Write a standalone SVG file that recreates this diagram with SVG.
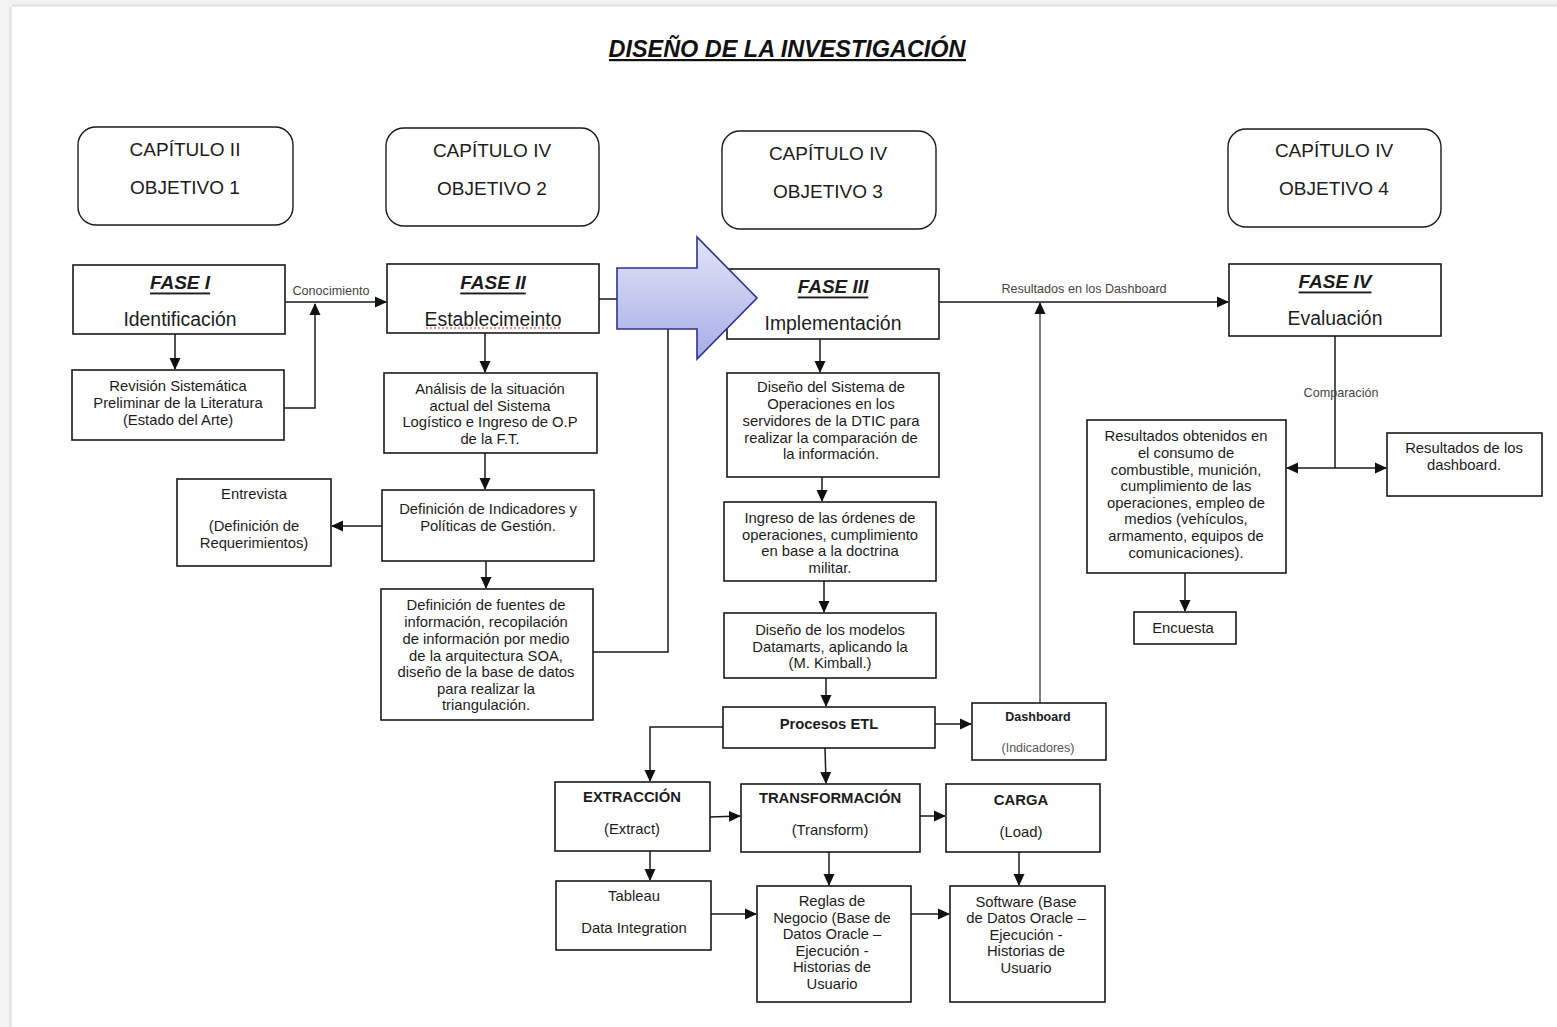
<svg xmlns="http://www.w3.org/2000/svg" width="1557" height="1027" viewBox="0 0 1557 1027">
  <style>
    .box { fill: #ffffff; stroke: #1a1a1a; stroke-width: 1.6; }
    .cap { fill: #ffffff; stroke: #1a1a1a; stroke-width: 1.4; }
    .t { font-family: "Liberation Sans", Arial, sans-serif; fill: #1c1c1c; text-anchor: middle; dominant-baseline: central; }
    .s13 { font-size: 14.8px; }
    .s17 { font-size: 19px; }
    .s18 { font-size: 19.4px; }
    .fase { font-size: 19px; font-weight: bold; font-style: italic; text-decoration: underline; }
    .b { font-weight: bold; font-size: 14.8px; }
    .lbl { font-family: "Liberation Sans", Arial, sans-serif; font-size: 12.6px; fill: #444; text-anchor: middle; dominant-baseline: central; }
    .ln { fill: none; stroke: #1a1a1a; stroke-width: 1.5; }
    .ar { marker-end: url(#ah); }
  </style>
  <defs>
    <marker id="ah" markerUnits="userSpaceOnUse" markerWidth="12" markerHeight="12" viewBox="0 0 12 12" refX="11" refY="6" orient="auto">
      <path d="M0,0.5 L12,6 L0,11.5 Z" fill="#111"/>
    </marker>
    <linearGradient id="blue" x1="0" y1="0" x2="0" y2="1">
      <stop offset="0" stop-color="#e2e5f8"/>
      <stop offset="1" stop-color="#a7ade5"/>
    </linearGradient>
  </defs>

  <!-- page frame -->
  <rect x="0" y="0" width="1557" height="1027" fill="#f3f3f3"/>
  <rect x="12" y="7" width="1545" height="1020" fill="#ffffff"/>
  <rect x="9" y="7" width="3" height="1020" fill="#e6e6e6"/>
  <rect x="12" y="4" width="1545" height="3" fill="#e6e6e6"/>

  <!-- title -->
  <g id="title">
    <text x="787" y="49" class="t" style="font-size:23px;font-weight:bold;font-style:italic;fill:#111" textLength="357" lengthAdjust="spacingAndGlyphs">DISEÑO DE LA INVESTIGACIÓN</text>
    <rect x="609" y="59" width="357" height="2.2" fill="#111"/>
  </g>

  <!-- chapter boxes -->
  <g id="cap1"><rect class="cap" x="78" y="127" width="215" height="98" rx="18"/>
    <text class="t s17" x="185" y="149">CAPÍTULO II</text><text class="t s17" x="185" y="187">OBJETIVO 1</text></g>
  <g id="cap2"><rect class="cap" x="386" y="128" width="213" height="98" rx="18"/>
    <text class="t s17" x="492" y="150">CAPÍTULO IV</text><text class="t s17" x="492" y="188">OBJETIVO 2</text></g>
  <g id="cap3"><rect class="cap" x="722" y="131" width="214" height="98" rx="18"/>
    <text class="t s17" x="828" y="153">CAPÍTULO IV</text><text class="t s17" x="828" y="191">OBJETIVO 3</text></g>
  <g id="cap4"><rect class="cap" x="1228" y="129" width="213" height="98" rx="18"/>
    <text class="t s17" x="1334" y="150">CAPÍTULO IV</text><text class="t s17" x="1334" y="188">OBJETIVO 4</text></g>

  <!-- connectors -->
  <g id="connectors">
    <line class="ln ar" x1="285" y1="302" x2="386" y2="302"/>
    <text class="lbl" x="331" y="291">Conocimiento</text>
    <polyline class="ln ar" points="284,408 315,408 315,304"/>
    <line class="ln ar" x1="175" y1="334" x2="175" y2="369"/>
    <line class="ln ar" x1="485" y1="333" x2="485" y2="372"/>
    <line class="ln ar" x1="485" y1="453" x2="485" y2="489"/>
    <line class="ln ar" x1="382" y1="526" x2="332" y2="526"/>
    <line class="ln ar" x1="486" y1="561" x2="486" y2="588"/>
    <line class="ln" x1="599" y1="299" x2="618" y2="299"/>
    <polyline class="ln" points="593,652 668,652 668,328"/>

    <line class="ln ar" x1="820" y1="339" x2="820" y2="372"/>
    <line class="ln ar" x1="822" y1="477" x2="822" y2="501"/>
    <line class="ln ar" x1="824" y1="581" x2="824" y2="612"/>
    <line class="ln ar" x1="826" y1="678" x2="826" y2="706"/>
    <line class="ln ar" x1="935" y1="724" x2="971" y2="724"/>
    <line class="ln ar" x1="1040" y1="703" x2="1040" y2="303" style="stroke:#555"/>
    <line class="ln ar" x1="939" y1="302" x2="1228" y2="302"/>
    <text class="lbl" x="1084" y="289">Resultados en los Dashboard</text>

    <polyline class="ln ar" points="723,727 650,727 650,781"/>
    <line class="ln ar" x1="825" y1="748" x2="826" y2="783"/>
    <line class="ln ar" x1="710" y1="817" x2="740" y2="816"/>
    <line class="ln ar" x1="920" y1="816" x2="945" y2="816"/>
    <line class="ln ar" x1="650" y1="851" x2="650" y2="880"/>
    <line class="ln ar" x1="829" y1="852" x2="829" y2="885"/>
    <line class="ln ar" x1="1019" y1="852" x2="1019" y2="885"/>
    <line class="ln ar" x1="711" y1="914" x2="756" y2="914"/>
    <line class="ln ar" x1="911" y1="914" x2="949" y2="914"/>

    <line class="ln" x1="1335" y1="336" x2="1335" y2="468"/>
    <line class="ln ar" x1="1335" y1="468" x2="1386" y2="468"/>
    <line class="ln ar" x1="1335" y1="468" x2="1287" y2="468"/>
    <text class="lbl" x="1341" y="393">Comparación</text>
    <line class="ln ar" x1="1185" y1="573" x2="1185" y2="611"/>
  </g>

  <!-- phase boxes -->
  <g id="fase1"><rect class="box" x="73" y="265" width="212" height="69"/>
    <text class="t fase" x="180" y="282">FASE I</text><text class="t s18" x="180" y="319">Identificación</text></g>
  <g id="fase2"><rect class="box" x="387" y="264" width="212" height="69"/>
    <text class="t fase" x="493" y="282">FASE II</text><text class="t s18" x="493" y="319">Establecimeinto</text>
    <line x1="426" y1="328" x2="561" y2="328" stroke="#d33" stroke-width="1.2" stroke-dasharray="2 2"/></g>
  <g id="fase3"><rect class="box" x="727" y="269" width="212" height="70"/>
    <text class="t fase" x="833" y="286">FASE III</text><text class="t s18" x="833" y="323">Implementación</text></g>
  <g id="fase4"><rect class="box" x="1229" y="264" width="212" height="72"/>
    <text class="t fase" x="1335" y="281">FASE IV</text><text class="t s18" x="1335" y="318">Evaluación</text></g>

  <!-- block arrow -->
  <g id="bigArrow">
    <polygon points="617,268 697,268 697,237 757,298 697,359 697,329 617,329" fill="url(#blue)" stroke="#2e3192" stroke-width="1.6" stroke-linejoin="miter"/>
  </g>

  <!-- phase I / II detail -->
  <g id="revision"><rect class="box" x="72" y="370" width="212" height="70"/>
    <text class="t s13" x="178" y="386">Revisión Sistemática</text>
    <text class="t s13" x="178" y="403">Preliminar de la Literatura</text>
    <text class="t s13" x="178" y="420">(Estado del Arte)</text></g>
  <g id="analisis"><rect class="box" x="384" y="373" width="213" height="80"/>
    <text class="t s13" x="490" y="389">Análisis de la situación</text>
    <text class="t s13" x="490" y="406">actual del Sistema</text>
    <text class="t s13" x="490" y="422">Logístico e Ingreso de O.P</text>
    <text class="t s13" x="490" y="439">de la F.T.</text></g>
  <g id="indicadores"><rect class="box" x="382" y="490" width="212" height="71"/>
    <text class="t s13" x="488" y="509">Definición de Indicadores y</text>
    <text class="t s13" x="488" y="526">Políticas de Gestión.</text></g>
  <g id="entrevista"><rect class="box" x="177" y="479" width="154" height="87"/>
    <text class="t s13" x="254" y="494">Entrevista</text>
    <text class="t s13" x="254" y="526">(Definición de</text>
    <text class="t s13" x="254" y="543">Requerimientos)</text></g>
  <g id="fuentes"><rect class="box" x="381" y="589" width="212" height="131"/>
    <text class="t s13" x="486" y="605">Definición de fuentes de</text>
    <text class="t s13" x="486" y="622">información, recopilación</text>
    <text class="t s13" x="486" y="639">de información por medio</text>
    <text class="t s13" x="486" y="656">de la arquitectura SOA,</text>
    <text class="t s13" x="486" y="672">diseño de la base de datos</text>
    <text class="t s13" x="486" y="689">para realizar la</text>
    <text class="t s13" x="486" y="705">triangulación.</text></g>

  <!-- phase III detail -->
  <g id="disenoSistema"><rect class="box" x="727" y="373" width="212" height="104"/>
    <text class="t s13" x="831" y="387">Diseño del Sistema de</text>
    <text class="t s13" x="831" y="404">Operaciones en los</text>
    <text class="t s13" x="831" y="421">servidores de la DTIC para</text>
    <text class="t s13" x="831" y="438">realizar la comparación de</text>
    <text class="t s13" x="831" y="454">la información.</text></g>
  <g id="ingreso"><rect class="box" x="724" y="502" width="212" height="79"/>
    <text class="t s13" x="830" y="518">Ingreso de las órdenes de</text>
    <text class="t s13" x="830" y="535">operaciones, cumplimiento</text>
    <text class="t s13" x="830" y="551">en base a la doctrina</text>
    <text class="t s13" x="830" y="568">militar.</text></g>
  <g id="datamarts"><rect class="box" x="724" y="613" width="212" height="65"/>
    <text class="t s13" x="830" y="630">Diseño de los modelos</text>
    <text class="t s13" x="830" y="647">Datamarts, aplicando la</text>
    <text class="t s13" x="830" y="663">(M. Kimball.)</text></g>
  <g id="etl"><rect class="box" x="723" y="707" width="212" height="41"/>
    <text class="t b" x="829" y="724">Procesos ETL</text></g>
  <g id="dashboard"><rect class="box" x="972" y="703" width="134" height="57"/>
    <text class="t" x="1038" y="717" style="font-size:12.5px;font-weight:bold">Dashboard</text>
    <text class="t" x="1038" y="748" style="font-size:12.5px;fill:#555">(Indicadores)</text></g>

  <!-- ETL detail -->
  <g id="extraccion"><rect class="box" x="555" y="782" width="155" height="69"/>
    <text class="t b" x="632" y="797">EXTRACCIÓN</text>
    <text class="t s13" x="632" y="829">(Extract)</text></g>
  <g id="transformacion"><rect class="box" x="741" y="784" width="179" height="68"/>
    <text class="t b" x="830" y="798">TRANSFORMACIÓN</text>
    <text class="t s13" x="830" y="830">(Transform)</text></g>
  <g id="carga"><rect class="box" x="946" y="784" width="154" height="68"/>
    <text class="t b" x="1021" y="800">CARGA</text>
    <text class="t s13" x="1021" y="832">(Load)</text></g>
  <g id="tableau"><rect class="box" x="556" y="881" width="155" height="69"/>
    <text class="t s13" x="634" y="896">Tableau</text>
    <text class="t s13" x="634" y="928">Data Integration</text></g>
  <g id="reglas"><rect class="box" x="757" y="886" width="154" height="116"/>
    <text class="t s13" x="832" y="901">Reglas de</text>
    <text class="t s13" x="832" y="918">Negocio (Base de</text>
    <text class="t s13" x="832" y="934">Datos Oracle –</text>
    <text class="t s13" x="832" y="951">Ejecución -</text>
    <text class="t s13" x="832" y="967">Historias de</text>
    <text class="t s13" x="832" y="984">Usuario</text></g>
  <g id="software"><rect class="box" x="950" y="886" width="155" height="116"/>
    <text class="t s13" x="1026" y="902">Software (Base</text>
    <text class="t s13" x="1026" y="918">de Datos Oracle –</text>
    <text class="t s13" x="1026" y="935">Ejecución -</text>
    <text class="t s13" x="1026" y="951">Historias de</text>
    <text class="t s13" x="1026" y="968">Usuario</text></g>

  <!-- phase IV detail -->
  <g id="resultadosObtenidos"><rect class="box" x="1087" y="420" width="199" height="153"/>
    <text class="t s13" x="1186" y="436">Resultados obtenidos en</text>
    <text class="t s13" x="1186" y="453">el consumo de</text>
    <text class="t s13" x="1186" y="470">combustible, munición,</text>
    <text class="t s13" x="1186" y="486">cumplimiento de las</text>
    <text class="t s13" x="1186" y="503">operaciones, empleo de</text>
    <text class="t s13" x="1186" y="519">medios (vehículos,</text>
    <text class="t s13" x="1186" y="536">armamento, equipos de</text>
    <text class="t s13" x="1186" y="553">comunicaciones).</text></g>
  <g id="resultadosDashboard"><rect class="box" x="1387" y="433" width="155" height="63"/>
    <text class="t s13" x="1464" y="448">Resultados de los</text>
    <text class="t s13" x="1464" y="465">dashboard.</text></g>
  <g id="encuesta"><rect class="box" x="1134" y="612" width="102" height="32"/>
    <text class="t s13" x="1183" y="628">Encuesta</text></g>
</svg>
